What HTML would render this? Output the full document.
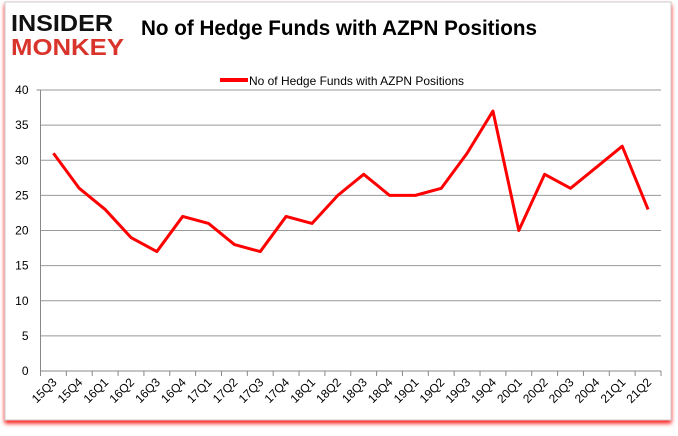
<!DOCTYPE html>
<html><head><meta charset="utf-8"><style>
body{margin:0;width:678px;height:431px;background:#fff;overflow:hidden;font-family:"Liberation Sans",sans-serif}
</style></head><body>
<svg width="678" height="431">
<defs><filter id="sh" x="-5%" y="-5%" width="110%" height="115%"><feDropShadow dx="0" dy="3" stdDeviation="2" flood-color="#f00" flood-opacity="0.9"/></filter></defs>
<rect x="5" y="2" width="666" height="418" fill="#fff" stroke="#ccc" filter="url(#sh)"/>
<g font-family="Liberation Sans" font-weight="bold">
<text x="11" y="31" font-size="23" fill="#111" textLength="102" lengthAdjust="spacingAndGlyphs">INSIDER</text>
<text x="11" y="55" font-size="23" fill="#d9342b" textLength="113" lengthAdjust="spacingAndGlyphs">MONKEY</text>
</g>
<text x="141" y="35" font-size="21" font-weight="bold" fill="#000" textLength="396" lengthAdjust="spacingAndGlyphs">No of Hedge Funds with AZPN Positions</text>
<g>
<line x1="220" y1="80" x2="248" y2="80" stroke="#f00" stroke-width="4"/>
<text x="249" y="85" font-size="12" fill="#000" textLength="215" lengthAdjust="spacingAndGlyphs">No of Hedge Funds with AZPN Positions</text>
</g>
<g id="grid"></g><g id="axes"></g><g id="series"></g>
</svg>
<script>
const categories=["15Q3","15Q4","16Q1","16Q2","16Q3","16Q4","17Q1","17Q2","17Q3","17Q4","18Q1","18Q2","18Q3","18Q4","19Q1","19Q2","19Q3","19Q4","20Q1","20Q2","20Q3","20Q4","21Q1","21Q2"];
const values=[31,26,23,19,17,22,21,18,17,22,21,25,28,25,25,26,31,37,20,28,26,29,32,23];
const yTicks=[0,5,10,15,20,25,30,35,40];
const L=40.5,R=661,T=90,B=371,yMax=40;
const NS="http://www.w3.org/2000/svg";
const step=(R-L)/categories.length;
const xs=i=>L+step*(i+0.5);
const ys=v=>B-(v/yMax)*(B-T);
function mk(t,a,p){const e=document.createElementNS(NS,t);for(const k in a)e.setAttribute(k,a[k]);document.getElementById(p).appendChild(e);return e;}
yTicks.forEach(v=>{
 const y=ys(v);
 const g=mk('line',{x1:L,x2:R,y1:y,y2:y,stroke:v===0?'#888':'#999','stroke-width':1},'grid');
 
 
 const t=mk('text',{x:L-12,y:y+4,'font-size':12,'text-anchor':'end',fill:'#000'},'axes');
 t.textContent=v;
 
 
});
const ya=mk('line',{x1:L,x2:L,y1:T,y2:B,stroke:'#888'},'axes');


mk('line',{x1:L-4,x2:L,y1:T,y2:T,stroke:'#888'},'axes');
for(let i=0;i<=categories.length;i++){
 const x=L+step*i;
 const tk=mk('line',{x1:x,x2:x,y1:B,y2:B+5,stroke:'#888'},'axes');
 
 
}
categories.forEach((c,i)=>{
 const x=xs(i)+4,y=B+12;
 const t=mk('text',{x:x,y:y,'font-size':12,'text-anchor':'end',fill:'#000',transform:`rotate(-45 ${x} ${y})`},'axes');
 t.textContent=c;
 
 
});
const p=mk('polyline',{points:values.map((v,i)=>xs(i)+','+ys(v)).join(' '),fill:'none',stroke:'#f00','stroke-width':3,'stroke-linejoin':'round'},'series');


</script>
</body></html>
